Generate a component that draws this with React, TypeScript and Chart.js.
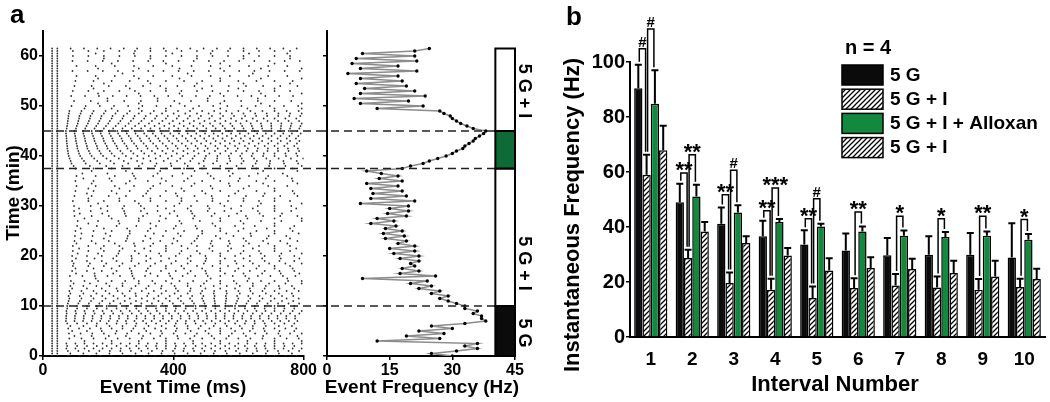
import React, { useEffect, useRef } from 'react';
import { Chart, registerables } from 'chart.js';

Chart.register(...registerables);

const FONT = '"Liberation Sans", Arial, Helvetica, sans-serif';
Chart.defaults.font.family = FONT;
Chart.defaults.color = '#000';

// ---------------- Panel a data ----------------
const sweepTimeMin = [0, 0.5, 1, 1.5, 2, 2.5, 3, 3.5, 4, 4.5, 5, 5.5, 6, 6.5, 7, 7.5, 8, 8.5, 9, 9.5,
  10, 10.5, 11, 11.5, 12, 12.5, 13, 13.5, 14, 14.5, 15, 15.5, 16, 16.5, 17, 17.5, 18, 18.5, 19, 19.5,
  20, 20.5, 21, 21.5, 22, 22.5, 23, 23.5, 24, 24.5, 25, 25.5, 26, 26.5, 27, 27.5, 28, 28.5, 29, 29.5,
  30, 30.5, 31, 31.5, 32, 32.5, 33, 33.5, 34, 34.5, 35, 35.5, 36, 36.5, 37, 37.5, 38, 38.5, 39, 39.5,
  40, 40.5, 41, 41.5, 42, 42.5, 43, 43.5, 44, 44.5, 45, 45.5, 46, 46.5, 47, 47.5, 48, 48.5, 49, 49.5,
  50, 50.5, 51, 51.5, 52, 52.5, 53, 53.5, 54, 54.5, 55, 55.5, 56, 56.5, 57, 57.5, 58, 58.5, 59, 59.5,
  60, 60.5, 61, 61.5];

const eventFreqHz = [30, 25, 31, 36, 33, 36, 12, 27, 19, 28, 22, 30, 25, 33, 38, 37, 37, 35, 36, 33,
  33, 31, 29, 27, 29, 25, 27, 22, 25, 20, 24, 8.5, 26, 17.5, 22, 18, 21, 20, 22, 17.5,
  22, 16, 21, 15, 21, 17, 19, 14, 18.5, 13.5, 18, 14, 16.5, 10.5, 16, 12, 19, 14.5, 19.5, 15,
  19.5, 8, 21, 10.5, 19, 11, 18, 10.5, 17, 9.5, 18, 12.5, 17, 13, 9.5, 18, 20, 23, 24.5, 26.5,
  28.5, 30, 31, 32.5, 33, 34, 35, 35.5, 36.5, 37.5, 38, 35, 33.5, 32, 31, 30, 29.5, 28, 27, 12,
  23, 8, 19.5, 6.5, 23.5, 8, 21, 9, 19, 7, 18, 8, 17, 5, 21.5, 8, 17, 6, 21.5, 7,
  21, 8.5, 21, 24.5];

// first events of every sweep (ms), later events follow the sweep's event frequency
const leadEventsMs = [28, 44];
const sweepWindowMs = 800;

const transitionMin = [10, 37.5, 45];
const phaseStartMin = [0, 10, 37.5, 45];
const phaseEndMin = [10, 37.5, 45, 61.5];
const phaseFill = ['#0b0b0b', '#ffffff', '#0e6b36', '#ffffff'];
const phaseLabel = ['5 G', '5 G + I', '', '5 G + I'];
const phaseLabelMin = [4.6, 18.5, 41, 53];
const phaseBarHz = [40.3, 45];

// ---------------- Panel b data ----------------
const intervals = ['1', '2', '3', '4', '5', '6', '7', '8', '9', '10'];
const seriesNames = ['5 G', '5 G + I', '5 G + I + Alloxan', '5 G + I'];
const g5Mean = [90.5, 49, 41.2, 36.6, 33.6, 31.5, 29.7, 29.9, 29.9, 28.9];
const g5Err = [8.5, 6.7, 5.9, 5.7, 5.2, 6.1, 6.3, 6.7, 7.9, 12.5];
const gIMean = [59, 28.7, 19.6, 17.2, 14.2, 17.8, 18.7, 18, 17.2, 18.2];
const gIErr = [7.3, 3.0, 3.9, 4.0, 4.2, 3.6, 4.2, 4.0, 3.9, 3.0];
const alloxMean = [84.8, 51.1, 45.3, 41.8, 40.2, 38.4, 36.8, 36.4, 36.8, 35.4];
const alloxErr = [12.2, 4.3, 2.6, 1.1, 1.0, 1.8, 1.9, 1.8, 1.6, 2.1];
const gI2Mean = [67.9, 38.4, 34.2, 29.6, 24.2, 25.1, 24.7, 23.3, 22, 21.1];
const gI2Err = [8.9, 3.4, 2.4, 2.8, 4.4, 3.9, 3.8, 4.4, 5.7, 3.7];

const bracketInterval = [0, 0, 1, 1, 2, 2, 3, 3, 4, 4, 5, 6, 7, 8, 9];
const bracketLeft = [0, 1, 0, 1, 0, 1, 0, 1, 0, 1, 1, 1, 1, 1, 1];
const bracketRight = [1, 2, 1, 2, 1, 2, 1, 2, 1, 2, 2, 2, 2, 2, 2];
const bracketLevel = [104.8, 112, 59.6, 66.3, 51.7, 60.6, 45.9, 54.2, 43, 50.3, 45.5, 43.9, 43, 43.9, 42.7];
const bracketText = ['#', '#', '**', '**', '**', '#', '**', '***', '**', '#', '**', '*', '*', '**', '*'];

const GREEN = '#13883f';

// ---------------- helpers ----------------
function makeHatch(): CanvasPattern | string {
  const c = document.createElement('canvas');
  c.width = 5;
  c.height = 5;
  const g = c.getContext('2d');
  if (!g) return '#ccc';
  g.fillStyle = '#fff';
  g.fillRect(0, 0, 5, 5);
  g.strokeStyle = '#000';
  g.lineWidth = 1.3;
  g.beginPath();
  g.moveTo(-1, 6); g.lineTo(6, -1);
  g.moveTo(-1, 1); g.lineTo(1, -1);
  g.moveTo(4, 6); g.lineTo(6, 4);
  g.stroke();
  return g.createPattern(c, 'repeat') || '#ccc';
}

function drawText(ctx: CanvasRenderingContext2D, s: string, x: number, y: number, size: number,
  align: CanvasTextAlign = 'center', baseline: CanvasTextBaseline = 'middle', rot = 0) {
  ctx.save();
  ctx.font = `bold ${size}px ${FONT}`;
  ctx.fillStyle = '#000';
  ctx.textAlign = align;
  ctx.textBaseline = baseline;
  ctx.translate(x, y);
  if (rot) ctx.rotate(rot);
  ctx.fillText(s, 0, 0);
  ctx.restore();
}

function axisBase(size: number, tickLen = 4) {
  return {
    grid: { display: true, drawOnChartArea: false, drawTicks: true, tickLength: tickLen, color: '#000', lineWidth: 1.5 },
    border: { display: true, color: '#000', width: 2 },
  };
}

function buildRaster() {
  const pts: { x: number; y: number }[] = [];
  sweepTimeMin.forEach((t, i) => {
    const f = eventFreqHz[i];
    leadEventsMs.forEach(ms => pts.push({ x: ms, y: t }));
    const period = 1000 / f;
    let ms = leadEventsMs[leadEventsMs.length - 1] + period;
    while (ms < sweepWindowMs) {
      pts.push({ x: ms, y: t });
      ms += period;
    }
  });
  return pts;
}

const keepTens = (s: any) => { s.ticks = s.ticks.filter((t: any) => Math.abs(t.value % 10) < 1e-6); };

// ---------------- plugins ----------------
const rasterDeco = {
  id: 'rasterDeco',
  afterDraw(chart: any) {
    const { ctx, chartArea, scales } = chart;
    ctx.save();
    ctx.setLineDash([8, 5]);
    ctx.lineWidth = 1.5;
    ctx.strokeStyle = '#222';
    transitionMin.forEach(t => {
      const y = scales.y.getPixelForValue(t);
      ctx.beginPath();
      ctx.moveTo(chartArea.left, y);
      ctx.lineTo(chart.width, y);
      ctx.stroke();
    });
    ctx.restore();
    drawText(ctx, 'a', 10, 23, 26, 'left', 'alphabetic');
    drawText(ctx, 'Time (min)', 14, 193, 19, 'center', 'middle', -Math.PI / 2);
    drawText(ctx, 'Event Time (ms)', 173, 388, 19, 'center', 'middle');
  },
};

const freqDeco = {
  id: 'freqDeco',
  afterDraw(chart: any) {
    const { ctx, scales, chartArea } = chart;
    const xs = scales.x, ys = scales.y;
    const barL = xs.getPixelForValue(phaseBarHz[0]);
    const barR = xs.getPixelForValue(phaseBarHz[1]);
    ctx.save();
    ctx.setLineDash([8, 5]);
    ctx.lineWidth = 1.5;
    ctx.strokeStyle = '#222';
    transitionMin.forEach(t => {
      const y = ys.getPixelForValue(t);
      ctx.beginPath();
      ctx.moveTo(0, y);
      ctx.lineTo(barL, y);
      ctx.stroke();
    });
    ctx.setLineDash([]);
    phaseStartMin.forEach((s, i) => {
      const yTop = ys.getPixelForValue(phaseEndMin[i]);
      const yBot = ys.getPixelForValue(s);
      ctx.fillStyle = phaseFill[i];
      ctx.fillRect(barL, yTop, barR - barL, yBot - yTop);
      ctx.lineWidth = 2;
      ctx.strokeStyle = '#000';
      ctx.strokeRect(barL, yTop, barR - barL, yBot - yTop);
      if (phaseLabel[i]) {
        drawText(ctx, phaseLabel[i], chartArea.right + 9, ys.getPixelForValue(phaseLabelMin[i]), 18, 'center', 'middle', Math.PI / 2);
      }
    });
    ctx.restore();
    drawText(ctx, 'Event Frequency (Hz)', 104, 388, 19, 'center', 'middle');
  },
};

const errArrays = [g5Err, gIErr, alloxErr, gI2Err];
const meanArrays = [g5Mean, gIMean, alloxMean, gI2Mean];

function barDecoFactory(hatch: CanvasPattern | string) {
  return {
    id: 'barDeco',
    afterDatasetsDraw(chart: any) {
      const { ctx, scales } = chart;
      const ys = scales.y;
      ctx.save();
      ctx.strokeStyle = '#000';
      ctx.lineWidth = 2;
      // error bars
      meanArrays.forEach((means, di) => {
        const meta = chart.getDatasetMeta(di);
        meta.data.forEach((bar: any, i: number) => {
          const yTop = ys.getPixelForValue(means[i] + errArrays[di][i]);
          const yBase = ys.getPixelForValue(means[i]);
          ctx.beginPath();
          ctx.moveTo(bar.x, yBase);
          ctx.lineTo(bar.x, yTop);
          ctx.moveTo(bar.x - 3.5, yTop);
          ctx.lineTo(bar.x + 3.5, yTop);
          ctx.stroke();
        });
      });
      // significance brackets
      ctx.lineWidth = 1.5;
      bracketInterval.forEach((ci, k) => {
        const lb = chart.getDatasetMeta(bracketLeft[k]).data[ci];
        const rb = chart.getDatasetMeta(bracketRight[k]).data[ci];
        const xl = lb.x + 1;
        const xr = rb.x - 1;
        const yl = ys.getPixelForValue(bracketLevel[k]);
        const ylb = ys.getPixelForValue(meanArrays[bracketLeft[k]][ci] + errArrays[bracketLeft[k]][ci]) - 3;
        const yrb = ys.getPixelForValue(meanArrays[bracketRight[k]][ci] + errArrays[bracketRight[k]][ci]) - 3;
        ctx.beginPath();
        ctx.moveTo(xl, ylb);
        ctx.lineTo(xl, yl);
        ctx.lineTo(xr, yl);
        ctx.lineTo(xr, yrb);
        ctx.stroke();
        const isHash = bracketText[k] === '#';
        const size = isHash ? 15 : 22;
        ctx.font = `bold ${size}px ${FONT}`;
        const m = ctx.measureText(bracketText[k]);
        const desc = m.actualBoundingBoxDescent || 0;
        drawText(ctx, bracketText[k], (xl + xr) / 2, yl - 2 - desc, size, 'center', 'alphabetic');
      });
      ctx.restore();
    },
    afterDraw(chart: any) {
      const ctx = chart.ctx;
      drawText(ctx, 'b', 26, 25, 26, 'left', 'alphabetic');
      drawText(ctx, 'Instantaneous Frequency (Hz)', 33, 215, 22, 'center', 'middle', -Math.PI / 2);
      drawText(ctx, 'Interval Number', 295, 385, 22, 'center', 'middle');
      // legend
      drawText(ctx, 'n = 4', 305, 48, 20, 'left', 'middle');
      const fills = [ '#0b0b0b', hatch, GREEN, hatch ];
      seriesNames.forEach((name, i) => {
        const top = 65 + i * 24.2;
        ctx.save();
        ctx.fillStyle = fills[i] as any;
        ctx.fillRect(302, top, 41, 20);
        ctx.lineWidth = 1.5;
        ctx.strokeStyle = '#000';
        ctx.strokeRect(302, top, 41, 20);
        ctx.restore();
        drawText(ctx, name, 350, top + 10.5, 19, 'left', 'middle');
      });
    },
  };
}

export default function App() {
  const r1 = useRef<HTMLCanvasElement>(null);
  const r2 = useRef<HTMLCanvasElement>(null);
  const r3 = useRef<HTMLCanvasElement>(null);

  useEffect(() => {
    const hatch = makeHatch();
    const tickFont = (size: number) => ({ size, weight: 'bold' as const, family: FONT });

    const c1 = new Chart(r1.current as HTMLCanvasElement, {
      type: 'scatter',
      data: {
        datasets: [{
          data: buildRaster(),
          pointRadius: 0.9,
          pointBackgroundColor: '#333',
          pointBorderWidth: 0,
          showLine: false,
        }],
      },
      options: {
        responsive: false,
        animation: false,
        events: [],
        layout: { padding: { left: 0, right: 14, top: 31, bottom: 0 } },
        plugins: { legend: { display: false }, tooltip: { enabled: false } },
        scales: {
          x: {
            type: 'linear', min: 0, max: 800,
            ...axisBase(16),
            ticks: { stepSize: 400, font: tickFont(16), color: '#000', padding: 1, maxRotation: 0 },
            afterFit: (s: any) => { s.height = 46; },
          },
          y: {
            type: 'linear', min: 0, max: 65,
            ...axisBase(16),
            ticks: { stepSize: 10, font: tickFont(16), color: '#000', padding: 1 },
            afterBuildTicks: keepTens,
            afterFit: (s: any) => { s.width = 43; },
          },
        },
      } as any,
      plugins: [rasterDeco],
    });

    const c2 = new Chart(r2.current as HTMLCanvasElement, {
      type: 'scatter',
      data: {
        datasets: [{
          data: sweepTimeMin.map((t, i) => ({ x: eventFreqHz[i], y: t })),
          showLine: true,
          borderColor: '#8c8c8c',
          borderWidth: 1.5,
          pointRadius: 1.7,
          pointBackgroundColor: '#000',
          pointBorderWidth: 0,
        }],
      },
      options: {
        responsive: false,
        animation: false,
        events: [],
        layout: { padding: { left: 0, right: 25, top: 31, bottom: 0 } },
        plugins: { legend: { display: false }, tooltip: { enabled: false } },
        scales: {
          x: {
            type: 'linear', min: 0, max: 45,
            ...axisBase(16),
            ticks: { stepSize: 15, font: tickFont(16), color: '#000', padding: 1, maxRotation: 0 },
            afterFit: (s: any) => { s.height = 46; },
          },
          y: {
            type: 'linear', min: 0, max: 65,
            ...axisBase(16),
            ticks: { stepSize: 10, font: tickFont(16), color: '#000', padding: 0, callback: () => '' },
            afterBuildTicks: keepTens,
            afterFit: (s: any) => { s.width = 9; },
          },
        },
      } as any,
      plugins: [freqDeco],
    });

    const c3 = new Chart(r3.current as HTMLCanvasElement, {
      type: 'bar',
      data: {
        labels: intervals,
        datasets: [
          { label: seriesNames[0], data: g5Mean, backgroundColor: '#0b0b0b' },
          { label: seriesNames[1], data: gIMean, backgroundColor: hatch as any },
          { label: seriesNames[2], data: alloxMean, backgroundColor: GREEN },
          { label: seriesNames[3], data: gI2Mean, backgroundColor: hatch as any },
        ].map(d => ({ ...d, borderColor: '#000', borderWidth: 1.5, categoryPercentage: 0.8, barPercentage: 1.0 })),
      },
      options: {
        responsive: false,
        animation: false,
        events: [],
        layout: { padding: { left: 0, right: 5, top: 62, bottom: 0 } },
        plugins: { legend: { display: false }, tooltip: { enabled: false } },
        scales: {
          x: {
            grid: { display: false, drawTicks: false },
            border: { display: true, color: '#000', width: 2 },
            ticks: { font: tickFont(19), color: '#000', padding: 11, maxRotation: 0 },
            afterFit: (s: any) => { s.height = 65; },
          },
          y: {
            type: 'linear', min: 0, max: 100,
            ...axisBase(20),
            ticks: { stepSize: 20, font: tickFont(20), color: '#000', padding: 1 },
            afterFit: (s: any) => { s.width = 90; },
          },
        },
      } as any,
      plugins: [barDecoFactory(hatch)],
    });

    return () => { c1.destroy(); c2.destroy(); c3.destroy(); };
  }, []);

  return (
    <div style={{ position: 'fixed', left: 0, top: 0, width: 1050, height: 402, background: '#fff', overflow: 'hidden' }}>
      <canvas ref={r1} width={318} height={402} style={{ position: 'absolute', left: 0, top: 0, width: 318, height: 402 }} />
      <canvas ref={r2} width={222} height={402} style={{ position: 'absolute', left: 318, top: 0, width: 222, height: 402 }} />
      <canvas ref={r3} width={510} height={402} style={{ position: 'absolute', left: 540, top: 0, width: 510, height: 402 }} />
    </div>
  );
}
